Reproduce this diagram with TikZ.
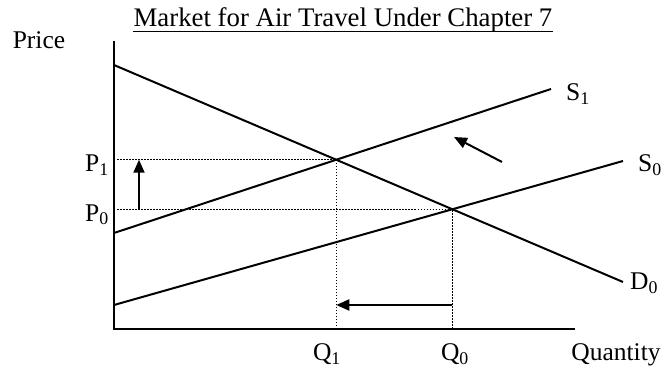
\documentclass[tikz,border=0pt]{standalone}
\usepackage{fontspec}
\setmainfont{Liberation Serif}
\usepackage{tikz}
\usetikzlibrary{arrows.meta, positioning}

\begin{document}
\begin{tikzpicture}[
    x=10pt, y=10pt,
    font=\fontsize{25.5}{30}\selectfont,
    axis/.style={line width=2.6pt},
    curve/.style={line width=2pt},
    guide/.style={line width=1.4pt, dash pattern=on 1.4pt off 1.6pt},
    shiftarrow/.style={line width=2pt, -{Triangle[length=13pt, width=11pt]}},
    labelstyle/.style={inner sep=0pt}
]
    \useasboundingbox (-11.4, -4.0) rectangle (55.1, 32.9);

    % Title and axis labels
    \node [labelstyle, anchor=base, font=\fontsize{26.8}{30}\selectfont] (title) at (22.9, 30.2) {Market for Air Travel Under Chapter 7};
    \draw [line width=1.8pt] ([yshift=-4.6pt]title.base west) -- ([yshift=-4.6pt]title.base east);
    \node [labelstyle, anchor=base] (price) at (-7.5, 28.0) {Price};
    \node [labelstyle, anchor=base] (quantity) at (50.2, -3.2) {Quantity};

    % Axes
    \coordinate (top) at (0, 28.8);
    \coordinate (origin) at (0, 0);
    \coordinate (right) at (46.1, 0);
    \draw [axis] (top) -- (origin) -- (right);

    % Curves
    \coordinate (d0a) at (0, 26.4);
    \coordinate (d0b) at (50.9, 4.7);
    \coordinate (s1a) at (0, 9.6);
    \coordinate (s1b) at (43.7, 24.0);
    \coordinate (s0a) at (0, 2.4);
    \coordinate (s0b) at (50.9, 16.8);
    \draw [curve] (d0a) -- (d0b);
    \draw [curve] (s1a) -- (s1b);
    \draw [curve] (s0a) -- (s0b);
    \node [labelstyle, anchor=base west] (d0) at (51.6, 3.9) {D\textsubscript{0}};
    \node [labelstyle, anchor=base west] (s1) at (45.2, 22.8) {S\textsubscript{1}};
    \node [labelstyle, anchor=base west] (s0) at (52.4, 15.7) {S\textsubscript{0}};

    % Equilibria
    \coordinate (e1) at (intersection of d0a--d0b and s1a--s1b);
    \coordinate (e0) at (intersection of d0a--d0b and s0a--s0b);
    \coordinate (p1) at (0.35, 0 |- e1);
    \coordinate (p0) at (0.35, 0 |- e0);
    \coordinate (q1) at (e1 |- origin);
    \coordinate (q0) at (e0 |- origin);
    \draw [guide] (p1) -- (e1) -- (q1);
    \draw [guide] (p0) -- (e0) -- (q0);

    % Price and quantity labels
    \node [labelstyle, anchor=base east, yshift=-12pt] (lp1) at (-0.5, 0 |- e1) {P\textsubscript{1}};
    \node [labelstyle, anchor=base east, yshift=-12pt] (lp0) at (-0.5, 0 |- e0) {P\textsubscript{0}};
    \node [labelstyle, anchor=base] (lq1) at (21.3, -3.2) {Q\textsubscript{1}};
    \node [labelstyle, anchor=base] (lq0) at (34.1, -3.2) {Q\textsubscript{0}};

    % Shift arrows
    \coordinate (up0) at (2.5, 0 |- e0);
    \coordinate (up1) at (2.5, 0 |- e1);
    \draw [shiftarrow] (up0) -- (up1);
    \coordinate (sh0) at (38.8, 16.7);
    \coordinate (sh1) at (34.0, 19.2);
    \draw [shiftarrow] (sh0) -- (sh1);
    \coordinate (lf0) at (e0 |- 0, 2.4);
    \coordinate (lf1) at (e1 |- 0, 2.4);
    \draw [shiftarrow] (lf0) -- (lf1);

\end{tikzpicture}
\end{document}
